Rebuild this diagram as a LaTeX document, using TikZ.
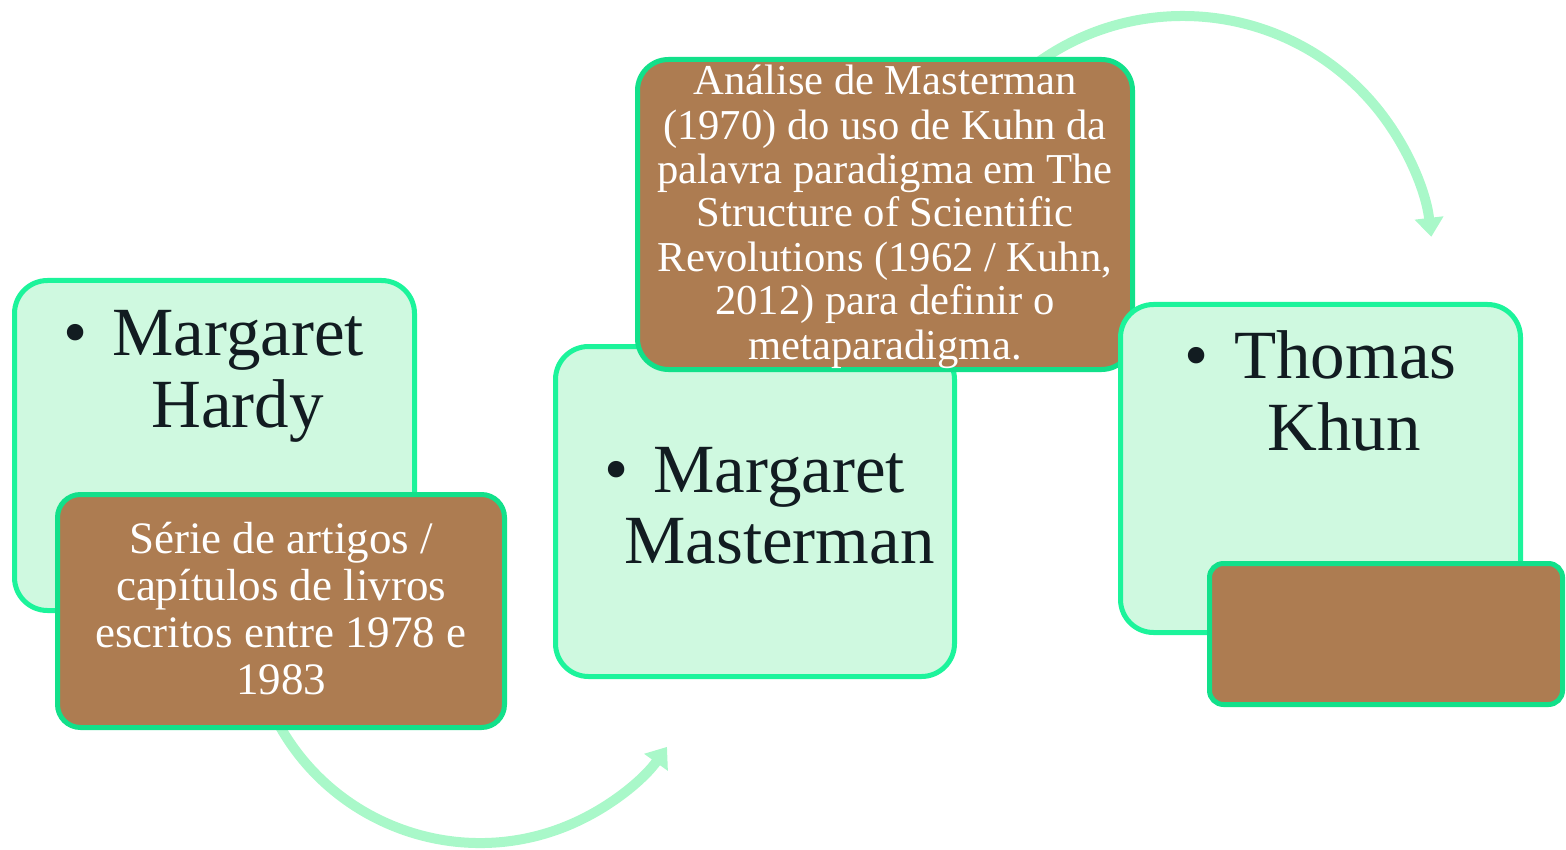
\documentclass[tikz,border=0pt]{standalone}
\usepackage{fontspec}
\setmainfont{Liberation Serif}
\usetikzlibrary{arrows.meta}
\definecolor{gfill}{HTML}{CFF9E0}
\definecolor{gline}{HTML}{1CF49B}
\definecolor{bline}{HTML}{12E08A}
\definecolor{bfill}{HTML}{AD7C51}
\definecolor{arcc}{HTML}{A9F8C9}
\definecolor{dtext}{HTML}{121C21}
\tikzset{
  greenbox/.style={draw=gline, fill=gfill, line width=5pt, rounded corners=33pt, inner sep=0pt, outer sep=0pt},
  brownbox/.style={draw=bline, fill=bfill, line width=5pt, inner sep=0pt, outer sep=0pt},
  nametext/.style={text=dtext, inner sep=0pt, font=\fontsize{69}{72}\selectfont, anchor=base west},
  desctext/.style={text=white, inner sep=0pt, align=center, anchor=base},
  flowarc/.style={draw=arcc, line width=10pt, -{Triangle[width=28pt,length=19pt]}}
}
\begin{document}
\begin{tikzpicture}[x=1pt,y=-1pt]
\useasboundingbox (0,0) rectangle (1566,850);
% arcs (behind)
\coordinate (a1c) at (480,613);
\coordinate (a2c) at (1183,266);
\coordinate (a1s) at ([shift={(205:230pt)}]a1c);
\coordinate (a2s) at ([shift={(128:250pt)}]a2c);
\draw[flowarc] (a1s) arc[start angle=205, end angle=324.4, radius=230pt];
\draw[flowarc] (a2s) arc[start angle=128, end angle=6.7, radius=250pt];
% box 1
\node[greenbox, minimum width=400pt, minimum height=330pt] (g1) at (214.5,445.5) {};
\node[brownbox, rounded corners=23pt, minimum width=447pt, minimum height=233pt] (b1) at (281,611) {};
\node[nametext] (g1l1) at (63.5,355) {•\hspace{24.5pt}Margaret};
\node[nametext] (g1l2) at (151,427) {Hardy};
\node[desctext, font=\fontsize{45}{47}\selectfont] (b1t) at (281,694) {Série de artigos /\\capítulos de livros\\escritos entre 1978 e\\1983};
% box 2
\node[greenbox, minimum width=399pt, minimum height=330pt] (g2) at (755,511.5) {};
\node[brownbox, rounded corners=31pt, minimum width=495pt, minimum height=310pt] (b2) at (885,214.5) {};
\node[nametext] (g2l1) at (604.5,492) {•\hspace{24.5pt}Margaret};
\node[nametext] (g2l2) at (624,563) {Masterman};
\node[desctext, font=\fontsize{42.6}{44}\selectfont] (b2t) at (885,359) {Análise de Masterman\\(1970) do uso de Kuhn da\\palavra paradigma em The\\Structure of Scientific\\Revolutions (1962 / Kuhn,\\2012) para definir o\\metaparadigma.};
% box 3
\node[greenbox, minimum width=400pt, minimum height=328pt] (g3) at (1320.5,468.5) {};
\node[brownbox, rounded corners=14pt, minimum width=353pt, minimum height=141pt] (b3) at (1386,634) {};
\node[nametext] (g3l1) at (1184.5,378) {•\hspace{25.5pt}Thomas};
\node[nametext] (g3l2) at (1267,450) {Khun};
\end{tikzpicture}
\end{document}
